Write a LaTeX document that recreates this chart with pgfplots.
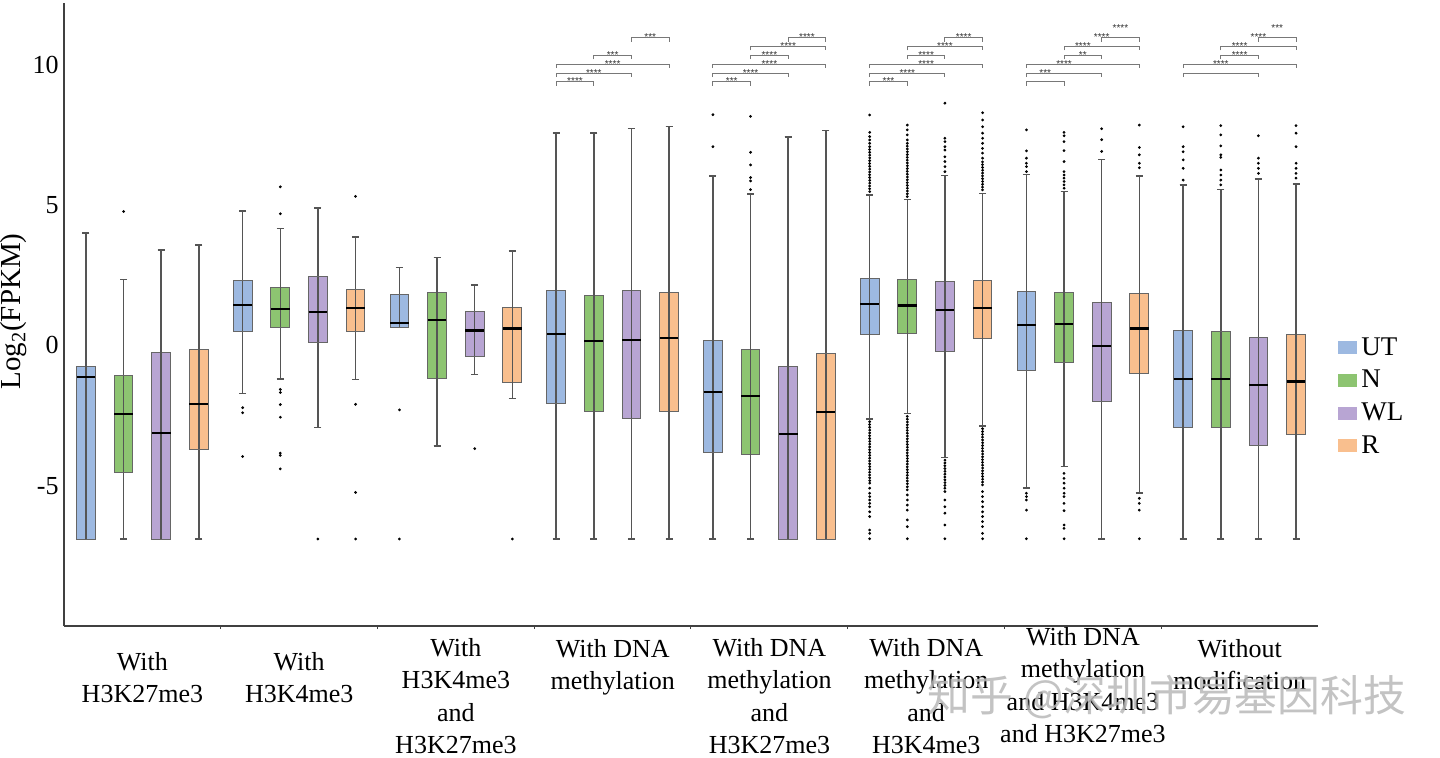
\documentclass[border=0pt]{standalone}
\usepackage{pgfplots}
\pgfplotsset{compat=1.18}
\usepgfplotslibrary{statistics}
\usepackage{fontspec}
\setmainfont{Liberation Serif}
\newfontfamily\cjk{Noto Sans CJK SC}
\newfontfamily\starfont{Liberation Sans}
\definecolor{cUT}{RGB}{157,185,225}
\definecolor{cN}{RGB}{141,196,113}
\definecolor{cWL}{RGB}{184,165,211}
\definecolor{cR}{RGB}{249,191,142}
\definecolor{wh}{RGB}{85,85,85}
\definecolor{brk}{RGB}{120,120,120}
\pgfplotsset{
  boxplot/draw/box/.code={%
    \draw[/pgfplots/boxplot/every box/.try]
      (boxplot box cs:\pgfplotsboxplotvalue{lower quartile},0) rectangle
      (boxplot box cs:\pgfplotsboxplotvalue{upper quartile},1);
    \draw[wh,line width=0.75pt]
      (boxplot box cs:\pgfplotsboxplotvalue{lower quartile},0.5) --
      (boxplot box cs:\pgfplotsboxplotvalue{upper quartile},0.5);
  },
  bx/.style={forget plot,
    boxplot/draw direction=y,
    boxplot/box extend=0.12, boxplot/whisker extend=0.045,
    mark=*, mark size=0.48pt, mark options={draw=none,fill=black!60},
    boxplot/every box/.style={draw=black!60,line width=0.5pt},
    boxplot/every whisker/.style={wh,line width=0.75pt},
    boxplot/every median/.style={black,line width=1.1pt}},
  UT/.style={bx,fill=cUT},
  N/.style={bx,fill=cN},
  WL/.style={bx,fill=cWL},
  R/.style={bx,fill=cR},
}
\newcommand{\brk}[6]{%
  \draw[brk,line width=0.5pt] (axis cs:#1,#4) ++(0pt,-2pt) -- (axis cs:#1,#4) -- (axis cs:#2,#4) -- ++(0pt,-2pt);
  \node[font=\starfont\fontsize{5}{6}\selectfont, anchor=base, inner sep=0pt, yshift=-1.5pt, text=black!80] at (axis cs:#3,#5) {#6};
}
\begin{document}
\begin{tikzpicture}
\path[use as bounding box] (0,0) rectangle (720pt,378.5pt);
\begin{axis}[
  at={(32pt,65.5pt)}, anchor=south west,
  scale only axis, width=627pt, height=311.5pt,
  xmin=-0.5, xmax=7.5, ymin=-10, ymax=12.2,
  axis x line*=bottom, axis y line*=left,
  axis line style={black!75,line width=0.65pt,-},
  xtick={0.5,1.5,2.5,3.5,4.5,5.5,6.5}, xticklabels={},
  xtick style={black!75,line width=0.5pt},
  ytick={-5,0,5,10},
  ytick style={draw=none},
  major tick length=1.5pt, tick align=outside,
  yticklabel style={font=\fontsize{13}{15}\selectfont, inner sep=1pt},
  /pgf/number format/assume math mode=true,
  clip=false,
  legend style={at={(axis description cs:1.016,0.47)}, anchor=north west, draw=none, fill=none,
    font=\fontsize{13.5}{16}\selectfont, row sep=2pt, inner sep=0pt},
  legend cell align=left,
  legend image code/.code={\fill[#1,draw=none] (0pt,-3.25pt) rectangle (9.5pt,3.25pt);},
]
\addlegendimage{fill=cUT}\addlegendentry{UT}
\addlegendimage{fill=cN}\addlegendentry{N}
\addlegendimage{fill=cWL}\addlegendentry{WL}
\addlegendimage{fill=cR}\addlegendentry{R}

% Group 0: With H3K27me3
\addplot[UT, boxplot prepared={draw position=-0.36, lower whisker=-6.9, lower quartile=-6.9, median=-1.14, upper quartile=-0.75, upper whisker=4.0}] coordinates {};
\addplot[N, boxplot prepared={draw position=-0.12, lower whisker=-6.9, lower quartile=-4.52, median=-2.44, upper quartile=-1.09, upper whisker=2.35}] table[row sep=\\,y index=0] {y\\ 4.77\\};
\addplot[WL, boxplot prepared={draw position=0.12, lower whisker=-6.9, lower quartile=-6.9, median=-3.13, upper quartile=-0.24, upper whisker=3.39}] coordinates {};
\addplot[R, boxplot prepared={draw position=0.36, lower whisker=-6.9, lower quartile=-3.71, median=-2.08, upper quartile=-0.13, upper whisker=3.57}] coordinates {};

% Group 1: With H3K4me3
\addplot[UT, boxplot prepared={draw position=0.64, lower whisker=-1.72, lower quartile=0.51, median=1.43, upper quartile=2.30, upper whisker=4.78}] table[row sep=\\,y index=0] {y\\ -2.22\\ -2.40\\ -3.96\\};
\addplot[N, boxplot prepared={draw position=0.88, lower whisker=-1.19, lower quartile=0.64, median=1.31, upper quartile=2.07, upper whisker=4.16}] table[row sep=\\,y index=0] {y\\ 5.65\\ 4.69\\ -1.57\\ -1.68\\ -2.11\\ -2.56\\ -3.84\\ -3.92\\ -4.40\\};
\addplot[WL, boxplot prepared={draw position=1.12, lower whisker=-2.92, lower quartile=0.11, median=1.20, upper quartile=2.44, upper whisker=4.90}] table[row sep=\\,y index=0] {y\\ -6.9\\};
\addplot[R, boxplot prepared={draw position=1.36, lower whisker=-1.21, lower quartile=0.51, median=1.33, upper quartile=1.99, upper whisker=3.87}] table[row sep=\\,y index=0] {y\\ 5.31\\ -2.10\\ -5.24\\ -6.9\\};

% Group 2: With H3K4me3 and H3K27me3
\addplot[UT, boxplot prepared={draw position=1.64, lower whisker=0.65, lower quartile=0.65, median=0.81, upper quartile=1.81, upper whisker=2.78}] table[row sep=\\,y index=0] {y\\ -2.30\\ -6.9\\};
\addplot[N, boxplot prepared={draw position=1.88, lower whisker=-3.58, lower quartile=-1.19, median=0.90, upper quartile=1.90, upper whisker=3.14}] coordinates {};
\addplot[WL, boxplot prepared={draw position=2.12, lower whisker=-1.04, lower quartile=-0.38, median=0.53, upper quartile=1.20, upper whisker=2.15}] table[row sep=\\,y index=0] {y\\ -3.68\\};
\addplot[R, boxplot prepared={draw position=2.36, lower whisker=-1.89, lower quartile=-1.34, median=0.60, upper quartile=1.36, upper whisker=3.37}] table[row sep=\\,y index=0] {y\\ -6.9\\};

% Group 3: With DNA methylation
\addplot[UT, boxplot prepared={draw position=2.64, lower whisker=-6.9, lower quartile=-2.06, median=0.40, upper quartile=1.96, upper whisker=7.56}] coordinates {};
\addplot[N, boxplot prepared={draw position=2.88, lower whisker=-6.9, lower quartile=-2.37, median=0.15, upper quartile=1.78, upper whisker=7.56}] coordinates {};
\addplot[WL, boxplot prepared={draw position=3.12, lower whisker=-6.9, lower quartile=-2.59, median=0.20, upper quartile=1.96, upper whisker=7.73}] coordinates {};
\addplot[R, boxplot prepared={draw position=3.36, lower whisker=-6.9, lower quartile=-2.37, median=0.25, upper quartile=1.90, upper whisker=7.80}] coordinates {};

% Group 4: With DNA methylation and H3K27me3
\addplot[UT, boxplot prepared={draw position=3.64, lower whisker=-6.9, lower quartile=-3.81, median=-1.65, upper quartile=0.18, upper whisker=6.04}] table[row sep=\\,y index=0] {y\\ 8.22\\ 7.08\\};
\addplot[N, boxplot prepared={draw position=3.88, lower whisker=-6.9, lower quartile=-3.89, median=-1.81, upper quartile=-0.14, upper whisker=5.40}] table[row sep=\\,y index=0] {y\\ 8.16\\ 6.88\\ 6.43\\ 5.98\\ 5.86\\ 5.55\\};
\addplot[WL, boxplot prepared={draw position=4.12, lower whisker=-6.9, lower quartile=-6.9, median=-3.16, upper quartile=-0.74, upper whisker=7.43}] coordinates {};
\addplot[R, boxplot prepared={draw position=4.36, lower whisker=-6.9, lower quartile=-6.9, median=-2.36, upper quartile=-0.30, upper whisker=7.65}] coordinates {};

% Group 5: With DNA methylation and H3K4me3
\addplot[UT, boxplot prepared={draw position=4.64, lower whisker=-2.62, lower quartile=0.37, median=1.48, upper quartile=2.37, upper whisker=5.36}] table[row sep=\\,y index=0] {y\\
5.48\\ 5.58\\ 5.68\\ 5.78\\ 5.88\\ 5.98\\ 6.08\\ 6.18\\ 6.28\\ 6.38\\ 6.48\\ 6.58\\ 6.68\\ 6.78\\ 6.88\\ 6.98\\ 7.08\\ 7.20\\ 7.32\\ 7.44\\ 7.59\\ 8.21\\
-2.72\\ -2.82\\ -2.92\\ -3.02\\ -3.12\\ -3.22\\ -3.32\\ -3.42\\ -3.52\\ -3.62\\ -3.72\\ -3.82\\ -3.92\\ -4.02\\ -4.12\\ -4.22\\ -4.32\\ -4.42\\ -4.52\\ -4.62\\ -4.72\\ -4.82\\ -4.91\\ -5.09\\ -5.27\\ -5.39\\ -5.51\\ -5.63\\ -5.75\\ -5.93\\ -6.10\\ -6.58\\ -6.70\\ -6.89\\};
\addplot[N, boxplot prepared={draw position=4.88, lower whisker=-2.43, lower quartile=0.42, median=1.42, upper quartile=2.34, upper whisker=5.20}] table[row sep=\\,y index=0] {y\\
5.30\\ 5.40\\ 5.50\\ 5.60\\ 5.70\\ 5.80\\ 5.90\\ 6.00\\ 6.10\\ 6.20\\ 6.30\\ 6.40\\ 6.50\\ 6.60\\ 6.70\\ 6.80\\ 6.90\\ 7.00\\ 7.10\\ 7.20\\ 7.32\\ 7.50\\ 7.68\\ 7.85\\
-2.53\\ -2.63\\ -2.73\\ -2.83\\ -2.93\\ -3.03\\ -3.13\\ -3.23\\ -3.33\\ -3.43\\ -3.53\\ -3.63\\ -3.73\\ -3.83\\ -3.93\\ -4.03\\ -4.13\\ -4.23\\ -4.33\\ -4.43\\ -4.53\\ -4.63\\ -4.73\\ -4.83\\ -4.93\\ -5.04\\ -5.15\\ -5.33\\ -5.51\\ -5.69\\ -5.87\\ -6.22\\ -6.46\\ -6.89\\};
\addplot[WL, boxplot prepared={draw position=5.12, lower whisker=-3.99, lower quartile=-0.22, median=1.25, upper quartile=2.29, upper whisker=6.06}] table[row sep=\\,y index=0] {y\\
6.19\\ 6.37\\ 6.55\\ 6.72\\ 6.96\\ 7.08\\ 7.26\\ 7.38\\ 8.63\\
-4.09\\ -4.19\\ -4.29\\ -4.39\\ -4.49\\ -4.59\\ -4.69\\ -4.79\\ -4.89\\ -4.99\\ -5.09\\ -5.21\\ -5.51\\ -5.75\\ -5.98\\ -6.40\\ -6.89\\};
\addplot[R, boxplot prepared={draw position=5.36, lower whisker=-2.87, lower quartile=0.24, median=1.34, upper quartile=2.30, upper whisker=5.41}] table[row sep=\\,y index=0] {y\\
5.54\\ 5.64\\ 5.74\\ 5.84\\ 5.94\\ 6.04\\ 6.14\\ 6.24\\ 6.34\\ 6.44\\ 6.54\\ 6.67\\ 6.85\\ 7.02\\ 7.20\\ 7.38\\ 7.56\\ 7.79\\ 8.03\\ 8.29\\
-2.97\\ -3.07\\ -3.17\\ -3.27\\ -3.37\\ -3.47\\ -3.57\\ -3.67\\ -3.77\\ -3.87\\ -3.97\\ -4.07\\ -4.17\\ -4.27\\ -4.37\\ -4.47\\ -4.57\\ -4.67\\ -4.77\\ -4.87\\ -4.97\\ -5.21\\ -5.39\\ -5.57\\ -5.75\\ -5.93\\ -6.10\\ -6.28\\ -6.46\\ -6.70\\ -6.89\\};

% Group 6: With DNA methylation and H3K4me3 and H3K27me3
\addplot[UT, boxplot prepared={draw position=5.64, lower whisker=-5.08, lower quartile=-0.89, median=0.74, upper quartile=1.93, upper whisker=6.09}] table[row sep=\\,y index=0] {y\\ 6.19\\ 6.37\\ 6.49\\ 6.67\\ 6.93\\ 7.68\\ -5.27\\ -5.39\\ -5.51\\ -5.87\\ -6.89\\};
\addplot[N, boxplot prepared={draw position=5.88, lower whisker=-4.31, lower quartile=-0.60, median=0.77, upper quartile=1.89, upper whisker=5.49}] table[row sep=\\,y index=0] {y\\ 5.60\\ 5.72\\ 5.84\\ 5.96\\ 6.07\\ 6.19\\ 6.55\\ 6.94\\ 7.26\\ 7.47\\ 7.59\\ -4.56\\ -4.74\\ -4.91\\ -5.09\\ -5.27\\ -5.39\\ -5.63\\ -5.89\\ -6.40\\ -6.52\\ -6.89\\};
\addplot[WL, boxplot prepared={draw position=6.12, lower whisker=-6.9, lower quartile=-2.00, median=-0.02, upper quartile=1.53, upper whisker=6.62}] table[row sep=\\,y index=0] {y\\ 6.91\\ 7.33\\ 7.72\\};
\addplot[R, boxplot prepared={draw position=6.36, lower whisker=-5.26, lower quartile=-1.02, median=0.60, upper quartile=1.85, upper whisker=6.04}] table[row sep=\\,y index=0] {y\\ 6.33\\ 6.49\\ 6.79\\ 7.05\\ 7.85\\ -5.45\\ -5.63\\ -5.87\\ -6.89\\};

% Group 7: Without modification
\addplot[UT, boxplot prepared={draw position=6.64, lower whisker=-6.9, lower quartile=-2.93, median=-1.19, upper quartile=0.53, upper whisker=5.72}] table[row sep=\\,y index=0] {y\\ 5.89\\ 6.31\\ 6.61\\ 6.90\\ 7.08\\ 7.79\\};
\addplot[N, boxplot prepared={draw position=6.88, lower whisker=-6.9, lower quartile=-2.93, median=-1.19, upper quartile=0.49, upper whisker=5.55}] table[row sep=\\,y index=0] {y\\ 5.72\\ 5.89\\ 6.07\\ 6.25\\ 6.70\\ 6.79\\ 7.11\\ 7.50\\ 7.83\\};
\addplot[WL, boxplot prepared={draw position=7.12, lower whisker=-6.9, lower quartile=-3.56, median=-1.41, upper quartile=0.28, upper whisker=5.93}] table[row sep=\\,y index=0] {y\\ 6.13\\ 6.31\\ 6.49\\ 6.67\\ 7.47\\};
\addplot[R, boxplot prepared={draw position=7.36, lower whisker=-6.9, lower quartile=-3.19, median=-1.29, upper quartile=0.39, upper whisker=5.75}] table[row sep=\\,y index=0] {y\\ 5.96\\ 6.13\\ 6.31\\ 6.49\\ 7.08\\ 7.56\\ 7.83\\};

% significance brackets
\brk{2.64}{2.88}{2.76}{9.39}{9.39}{****}
\brk{2.64}{3.12}{2.88}{9.705}{9.705}{****}
\brk{2.64}{3.36}{3.00}{10.02}{10.02}{****}
\brk{2.88}{3.12}{3.00}{10.335}{10.335}{***}
\brk{3.12}{3.36}{3.24}{10.965}{10.965}{***}

\brk{3.64}{3.88}{3.76}{9.39}{9.39}{***}
\brk{3.64}{4.12}{3.88}{9.705}{9.705}{****}
\brk{3.64}{4.36}{4.00}{10.02}{10.02}{****}
\brk{3.88}{4.12}{4.00}{10.335}{10.335}{****}
\brk{3.88}{4.36}{4.12}{10.65}{10.65}{****}
\brk{4.12}{4.36}{4.24}{10.965}{10.965}{****}

\brk{4.64}{4.88}{4.76}{9.39}{9.39}{***}
\brk{4.64}{5.12}{4.88}{9.705}{9.705}{****}
\brk{4.64}{5.36}{5.00}{10.02}{10.02}{****}
\brk{4.88}{5.12}{5.00}{10.335}{10.335}{****}
\brk{4.88}{5.36}{5.12}{10.65}{10.65}{****}
\brk{5.12}{5.36}{5.24}{10.965}{10.965}{****}

\brk{5.64}{5.88}{5.76}{9.39}{9.705}{***}
\brk{5.64}{6.12}{5.88}{9.705}{10.02}{****}
\brk{5.64}{6.36}{6.00}{10.02}{10.335}{**}
\brk{5.88}{6.12}{6.00}{10.335}{10.65}{****}
\brk{5.88}{6.36}{6.12}{10.65}{10.965}{****}
\brk{6.12}{6.36}{6.24}{10.965}{11.28}{****}

\brk{6.64}{7.12}{6.88}{9.705}{10.02}{****}
\brk{6.64}{7.36}{7.00}{10.02}{10.335}{****}
\brk{6.88}{7.12}{7.00}{10.335}{10.65}{****}
\brk{6.88}{7.36}{7.12}{10.65}{10.965}{****}
\brk{7.12}{7.36}{7.24}{10.965}{11.28}{***}
\end{axis}

\begin{scope}[x=0.5pt,y=-0.5pt,yshift=378.5pt]
\node[rotate=90, font=\fontsize{14.5}{16}\selectfont, inner sep=0pt] at (14,311.5) {Log\textsubscript{2}(FPKM)};
\tikzset{cat/.style={anchor=north, align=center, inner sep=0pt, font=\fontsize{13}{16.2}\selectfont}}
\node[cat] at (142.4,652) {With\\H3K27me3};
\node[cat] at (299.2,652) {With\\H3K4me3};
\node[cat] at (455.9,638) {With\\H3K4me3\\and\\H3K27me3};
\node[cat] at (612.7,639) {With DNA\\methylation};
\node[cat] at (769.4,638) {With DNA\\methylation\\and\\H3K27me3};
\node[cat] at (926.2,638) {With DNA\\methylation\\and\\H3K4me3};
\node[cat] at (1082.9,627) {With DNA\\methylation\\and H3K4me3\\and H3K27me3};
\node[cat] at (1239.7,639) {Without\\modification};
\node[font=\cjk\fontsize{21.4}{24}\selectfont, text=black!28, opacity=0.85, inner sep=0pt] at (1167,697) {知乎 @深圳市易基因科技};
\end{scope}
\end{tikzpicture}
\end{document}
